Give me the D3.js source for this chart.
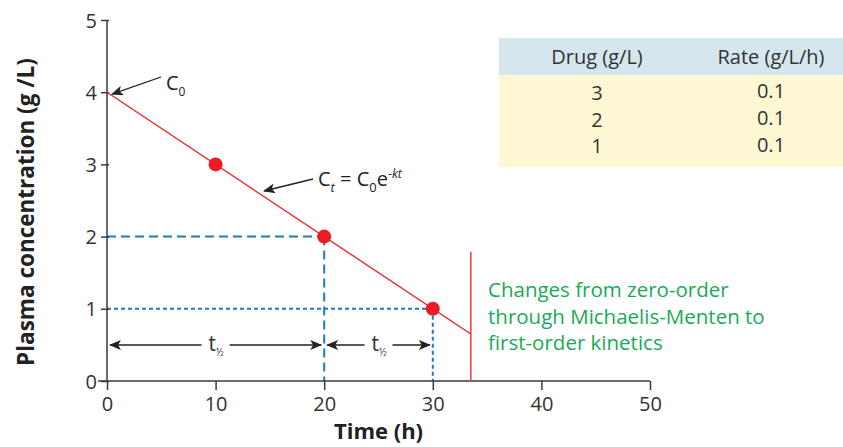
<!DOCTYPE html>
<html>
<head>
<meta charset="utf-8">
<script src="https://cdn.jsdelivr.net/npm/d3@7"></script>
<style>
  body { margin: 0; background: #fff; }
  svg { font-family: "Open Sans", "Noto Sans", sans-serif; }
</style>
</head>
<body>
<svg id="chart" width="843" height="447"></svg>
<script>
// data
var xTicks = [0, 10, 20, 30, 40, 50];
var yTicks = [0, 1, 2, 3, 4, 5];
var lineTimes = [0, 33.5];
var lineConc = [4, 0.65];
var pointTimes = [10, 20, 30];
var pointConc = [3, 2, 1];
var tableHeaders = ["Drug (g/L)", "Rate (g/L/h)"];
var tableDrug = ["3", "2", "1"];
var tableRate = ["0.1", "0.1", "0.1"];
var noteLines = ["Changes from zero-order", "through Michaelis-Menten to", "first-order kinetics"];
var cutoffTime = 33.5, cutoffTop = 1.79;

var svg = d3.select("#chart");
var x = d3.scaleLinear().domain([0, 50]).range([107, 650]);
var y = d3.scaleLinear().domain([0, 5]).range([381, 20]);
var axisColor = "#3a3a3a", blue = "#1f7ac4", red = "#ed1c24";

// arrow head
var defs = svg.append("defs");
defs.append("marker")
  .attr("id", "arr").attr("viewBox", "0 -5 12 10")
  .attr("refX", 11).attr("refY", 0)
  .attr("markerWidth", 12).attr("markerHeight", 10)
  .attr("markerUnits", "userSpaceOnUse")
  .attr("orient", "auto-start-reverse")
  .append("path").attr("d", "M0,-5L12,0L0,5L3,0Z").attr("fill", "#222");

// dashed guides (2 g/L long dashes, 1 g/L short dashes)
svg.append("line")
  .attr("x1", x(0)).attr("x2", x(20)).attr("y1", y(2)).attr("y2", y(2))
  .attr("stroke", blue).attr("stroke-width", 2).attr("stroke-dasharray", "9,5");
svg.append("line")
  .attr("x1", x(20)).attr("x2", x(20)).attr("y1", y(2)).attr("y2", y(0))
  .attr("stroke", blue).attr("stroke-width", 2).attr("stroke-dasharray", "9,5");
svg.append("line")
  .attr("x1", x(0)).attr("x2", x(30)).attr("y1", y(1)).attr("y2", y(1))
  .attr("stroke", blue).attr("stroke-width", 2).attr("stroke-dasharray", "4,3");
svg.append("line")
  .attr("x1", x(30)).attr("x2", x(30)).attr("y1", y(1)).attr("y2", y(0))
  .attr("stroke", blue).attr("stroke-width", 2).attr("stroke-dasharray", "4,3");

// axes
var yAxis = svg.append("g").attr("transform", "translate(" + x(0) + ",0)")
  .call(d3.axisLeft(y).tickValues(yTicks).tickSize(6).tickFormat(d3.format("d")));
var xAxis = svg.append("g").attr("transform", "translate(0," + y(0) + ")")
  .call(d3.axisBottom(x).tickValues(xTicks).tickSize(9).tickFormat(d3.format("d")));
[xAxis, yAxis].forEach(function(a){
  a.attr("font-size", 20).attr("font-family", "'Open Sans', sans-serif");
  a.select(".domain").attr("stroke", axisColor).attr("stroke-width", 1.5);
  a.selectAll(".tick line").attr("stroke", axisColor).attr("stroke-width", 1.5);
  a.selectAll(".tick text").attr("fill", "#333");
});
yAxis.select(".domain").attr("d", "M0," + y(0) + "V" + y(5));
yAxis.selectAll(".tick line").attr("x1", 2);
yAxis.selectAll(".tick text").attr("x", -10).attr("dy", "0.35em");
xAxis.select(".domain").attr("d", "M" + (x(0) - 9) + ",0H" + x(50));
xAxis.selectAll(".tick text").attr("y", 16);

// axis titles
svg.append("text")
  .attr("transform", "translate(34,212) rotate(-90)")
  .attr("text-anchor", "middle")
  .style("font-size", "22.5px").style("font-weight", "bold").attr("fill", "#222")
  .text("Plasma concentration (g /L)");
svg.append("text")
  .attr("x", x(25)).attr("y", 439)
  .attr("text-anchor", "middle")
  .style("font-size", "22px").style("font-weight", "bold").attr("fill", "#222")
  .text("Time (h)");

// elimination line
var lineData = lineTimes.map(function(t, i){ return [t, lineConc[i]]; });
svg.append("path")
  .datum(lineData)
  .attr("d", d3.line().x(function(d){ return x(d[0]); }).y(function(d){ return y(d[1]); }))
  .attr("fill", "none").attr("stroke", red).attr("stroke-width", 1.3);

// cutoff line
svg.append("line")
  .attr("x1", x(cutoffTime)).attr("x2", x(cutoffTime))
  .attr("y1", y(cutoffTop)).attr("y2", y(0))
  .attr("stroke", "#ee4455").attr("stroke-width", 1.6);

// points
svg.selectAll("circle.pt")
  .data(pointTimes)
  .enter().append("circle")
  .attr("class", "pt")
  .attr("cx", function(d){ return x(d); })
  .attr("cy", function(d, i){ return y(pointConc[i]); })
  .attr("r", 7)
  .attr("fill", red);

// C0 annotation
svg.append("line")
  .attr("x1", 161).attr("y1", 77).attr("x2", x(0) + 5).attr("y2", y(4) + 2)
  .attr("stroke", "#222").attr("stroke-width", 1.3).attr("marker-end", "url(#arr)");
var c0 = svg.append("text").attr("x", 166).attr("y", 90)
  .style("font-size", "20px").attr("fill", "#222");
c0.append("tspan").text("C");
c0.append("tspan").attr("dy", 6).style("font-size", "12px").text("0");

// Ct annotation
svg.append("line")
  .attr("x1", 313).attr("y1", 179).attr("x2", 264).attr("y2", 191)
  .attr("stroke", "#222").attr("stroke-width", 1.3).attr("marker-end", "url(#arr)");
var ct = svg.append("text").attr("x", 318).attr("y", 186)
  .style("font-size", "20px").attr("fill", "#222");
ct.append("tspan").text("C");
ct.append("tspan").attr("dy", 6).style("font-size", "13px").style("font-style", "italic").text("t");
ct.append("tspan").attr("dy", -6).text(" = C");
ct.append("tspan").attr("dy", 6).style("font-size", "13px").text("0");
ct.append("tspan").attr("dy", -6).text("e");
ct.append("tspan").attr("dy", -8).style("font-size", "12px").text("-");
ct.append("tspan").style("font-size", "12px").style("font-style", "italic").text("kt");

// half-life arrows
var halfSpans = [[0, 20], [20, 30]];
var arrowY = 345;
halfSpans.forEach(function(s){
  var a = x(s[0]) + 3, b = x(s[1]) - 3, m = (x(s[0]) + x(s[1])) / 2;
  svg.append("line").attr("x1", m - 14).attr("x2", a).attr("y1", arrowY).attr("y2", arrowY)
    .attr("stroke", "#222").attr("stroke-width", 1.3).attr("marker-end", "url(#arr)");
  svg.append("line").attr("x1", m + 14).attr("x2", b).attr("y1", arrowY).attr("y2", arrowY)
    .attr("stroke", "#222").attr("stroke-width", 1.3).attr("marker-end", "url(#arr)");
  var t = svg.append("text").attr("x", m - 7).attr("y", arrowY + 6)
    .style("font-size", "21px").attr("fill", "#333");
  t.append("tspan").text("t");
  t.append("tspan").attr("dy", 5).style("font-size", "10px").text("½");
});

// table
var tbl = svg.append("g");
tbl.append("rect").attr("x", 499).attr("y", 38).attr("width", 344).attr("height", 37).attr("fill", "#d5e6ee");
tbl.append("rect").attr("x", 499).attr("y", 75).attr("width", 344).attr("height", 92).attr("fill", "#fdf8d3");
var colX = [597, 771];
tableHeaders.forEach(function(h, i){
  tbl.append("text").attr("x", colX[i]).attr("y", 64).attr("text-anchor", "middle")
    .style("font-size", "20px").attr("fill", "#333").text(h);
});
tableDrug.forEach(function(d, i){
  tbl.append("text").attr("x", colX[0]).attr("y", 100 + i * 26.5).attr("text-anchor", "middle")
    .style("font-size", "20px").attr("fill", "#333").text(d);
  tbl.append("text").attr("x", colX[1]).attr("y", 98 + i * 27).attr("text-anchor", "middle")
    .style("font-size", "20px").attr("fill", "#333").text(tableRate[i]);
});

// note
svg.append("text").attr("x", 488).attr("y", 297)
  .style("font-size", "20.5px").attr("fill", "#1aaa55")
  .selectAll("tspan").data(noteLines).enter().append("tspan")
  .attr("x", 488).attr("dy", function(d, i){ return i === 0 ? 0 : 26.5; })
  .text(function(d){ return d; });
</script>
</body>
</html>
